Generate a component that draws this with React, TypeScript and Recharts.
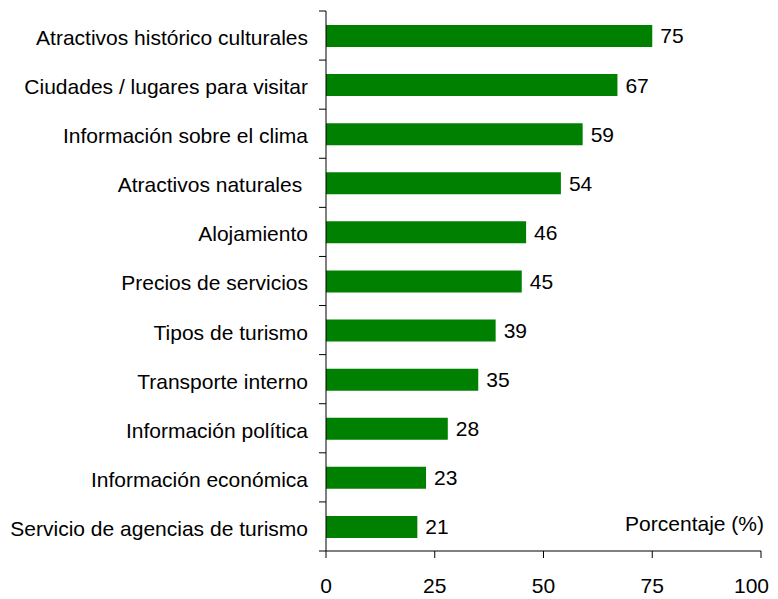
import { BarChart, Bar, XAxis, YAxis, LabelList, Label } from "recharts";

const categories = [
  "Atractivos histórico culturales",
  "Ciudades / lugares para visitar",
  "Información sobre el clima",
  "Atractivos naturales ",
  "Alojamiento",
  "Precios de servicios",
  "Tipos de turismo",
  "Transporte interno",
  "Información política",
  "Información económica",
  "Servicio de agencias de turismo",
];
const percentages = [75, 67, 59, 54, 46, 45, 39, 35, 28, 23, 21];
const xTicks = [0, 25, 50, 75, 100];

const data = categories.map((name, i) => ({ name, value: percentages[i] }));

const FONT = "'Liberation Sans', Arial, sans-serif";
const W = 762;
const H = 591;
const MARGIN = { top: 3, right: 9, left: 0, bottom: 0 };
const Y_WIDTH = 318;
const X_HEIGHT = 48;
const BAND = (H - MARGIN.top - MARGIN.bottom - X_HEIGHT) / categories.length;

function CategoryTick(props: any) {
  const { x, y, payload, index } = props;
  const axisX = Y_WIDTH;
  return (
    <g>
      <line x1={axisX - 7} x2={axisX} y1={y - BAND / 2} y2={y - BAND / 2} stroke="#000" />
      {index === categories.length - 1 && (
        <line x1={axisX - 7} x2={axisX} y1={y + BAND / 2} y2={y + BAND / 2} stroke="#000" />
      )}
      <text
        x={x}
        y={y}
        dy="0.45em"
        textAnchor="end"
        fontSize={21}
        fontFamily={FONT}
        fill="#000"
        style={{ whiteSpace: "pre" }}
      >
        {payload.value}
      </text>
    </g>
  );
}

function ValueTick(props: any) {
  const { x, y, payload, index } = props;
  const last = index === xTicks.length - 1;
  return (
    <text
      x={last ? W - 1 : x}
      y={y}
      dy="0.71em"
      textAnchor={last ? "end" : "middle"}
      fontSize={21}
      fontFamily={FONT}
      fill="#000"
    >
      {payload.value}
    </text>
  );
}

export default function App() {
  return (
    <BarChart width={W} height={H} data={data} layout="vertical" margin={MARGIN}>
      <XAxis
        type="number"
        domain={[0, 100]}
        ticks={xTicks}
        height={X_HEIGHT}
        axisLine={{ stroke: "#000" }}
        tickLine={{ stroke: "#000" }}
        tickSize={7}
        tickMargin={20}
        tick={<ValueTick />}
        interval={0}
      >
        <Label
          content={(p: any) => {
            const vb = p.viewBox;
            return (
              <text
                x={vb.x + vb.width + 3}
                y={vb.y - 20}
                textAnchor="end"
                fontSize={21}
                fontFamily={FONT}
                fill="#000"
              >
                Porcentaje (%)
              </text>
            );
          }}
        />
      </XAxis>
      <YAxis
        type="category"
        dataKey="name"
        width={Y_WIDTH}
        axisLine={{ stroke: "#000" }}
        tickLine={false}
        tickSize={7}
        tickMargin={11}
        interval={0}
        tick={<CategoryTick />}
      />
      <Bar dataKey="value" fill="#008000" barSize={22} isAnimationActive={false}>
        <LabelList
          dataKey="value"
          position="right"
          offset={8}
          fontSize={21}
          fontFamily={FONT}
          fill="#000"
        />
      </Bar>
    </BarChart>
  );
}
